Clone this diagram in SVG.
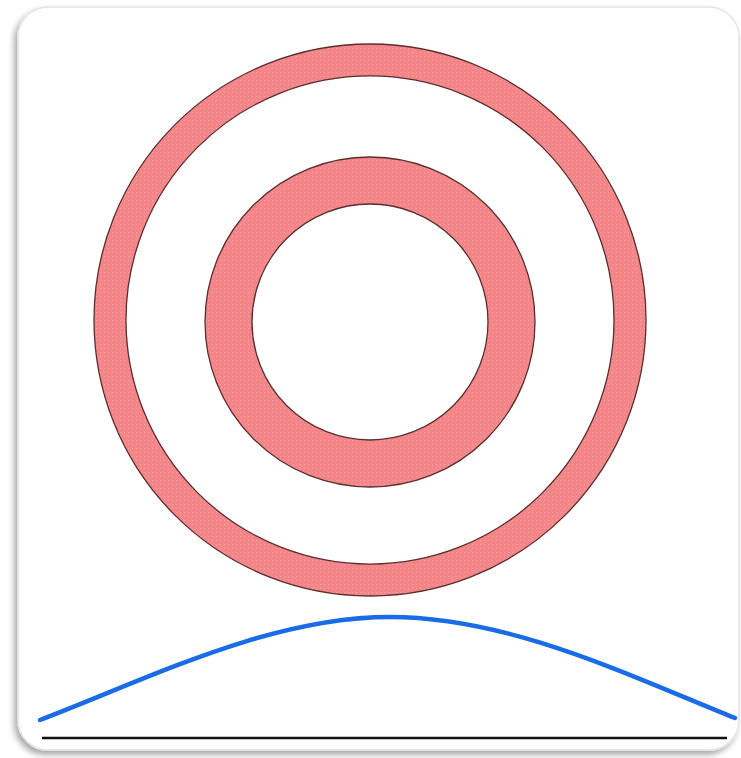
<svg xmlns="http://www.w3.org/2000/svg" width="741" height="758" viewBox="0 0 741 758">
<defs>
<filter id="sh" x="-5%" y="-5%" width="110%" height="110%">
<feGaussianBlur in="SourceAlpha" stdDeviation="3"/>
<feOffset dx="-3" dy="4"/>
<feComponentTransfer><feFuncA type="linear" slope="0.35"/></feComponentTransfer>
<feMerge><feMergeNode/><feMergeNode in="SourceGraphic"/></feMerge>
</filter>
<pattern id="dots" width="4" height="4" patternUnits="userSpaceOnUse">
<rect width="4" height="4" fill="#f4868a"/>
<rect width="1" height="1" fill="#f7a3a6"/>
</pattern>
<style>
.ring{fill:url(#dots);fill-rule:evenodd;stroke:#5a2e2e;stroke-width:1.3}
</style>
</defs>
<rect width="741" height="758" fill="#ffffff"/>
<g id="frame">
<rect x="18" y="7" width="721" height="743" rx="30" ry="30" fill="#ffffff" stroke="#e4e4e4" stroke-width="1.5" filter="url(#sh)"/>
</g>
<g id="outer-ring">
<path class="ring" d="M94,320 a276,276 0 1,0 552,0 a276,276 0 1,0 -552,0 Z M126,320 a244,244 0 1,0 488,0 a244,244 0 1,0 -488,0 Z"/>
</g>
<g id="inner-ring">
<path class="ring" d="M205,322 a165,165 0 1,0 330,0 a165,165 0 1,0 -330,0 Z M252,322 a118,118 0 1,0 236,0 a118,118 0 1,0 -236,0 Z"/>
</g>
<g id="connectors">
<path d="M40,720 C150,678 270,617 390,617 C510,617 630,676 735,718" fill="none" stroke="#1a6be6" stroke-width="4.5" stroke-linecap="round"/>
<line x1="42" y1="738" x2="727" y2="738" stroke="#111111" stroke-width="2.5"/>
</g>
</svg>
